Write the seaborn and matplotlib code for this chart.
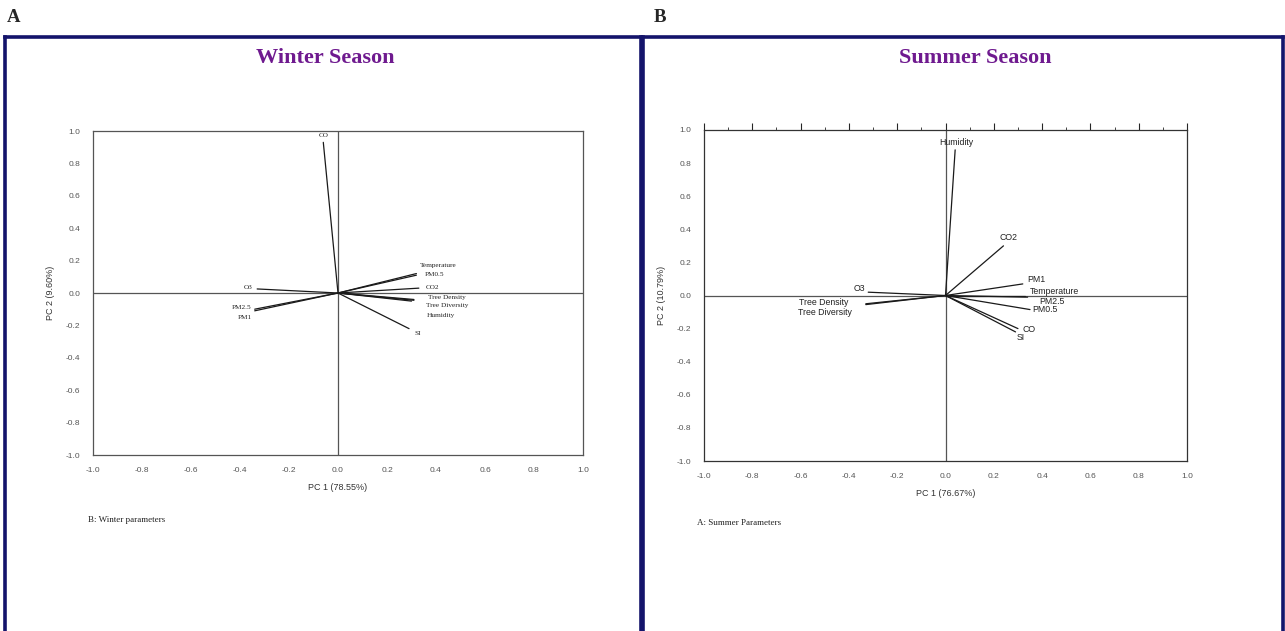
import numpy as np
import pandas as pd
import matplotlib
matplotlib.use("Agg")
import matplotlib.pyplot as plt
import seaborn as sns

sns.set_style("white")
plt.rcParams.update({
    'font.family': ['Liberation Sans', 'DejaVu Sans'],
    'axes.linewidth': 0.8,
})

# ---------------------------
# Loadings
# ---------------------------
winter_vars = ["CO", "Temperature", "PM0.5", "CO2", "Tree Density", "Tree Diversity",
               "Humidity", "SI", "O3", "PM2.5", "PM1"]
winter_pc1 = [-0.06, 0.32, 0.32, 0.33, 0.31, 0.31, 0.30, 0.29, -0.33, -0.34, -0.34]
winter_pc2 = [0.93, 0.12, 0.11, 0.03, -0.04, -0.045, -0.05, -0.22, 0.025, -0.10, -0.11]

summer_vars = ["Humidity", "CO2", "PM1", "Temperature", "PM2.5", "PM0.5", "CO", "SI",
               "O3", "Tree Density", "Tree Diversity"]
summer_pc1 = [0.04, 0.24, 0.32, 0.33, 0.34, 0.35, 0.30, 0.29, -0.32, -0.33, -0.33]
summer_pc2 = [0.88, 0.30, 0.07, 0.0, -0.01, -0.085, -0.20, -0.22, 0.02, -0.05, -0.055]

winter_xlabel = "PC 1 (78.55%)"
winter_ylabel = "PC 2 (9.60%)"
summer_xlabel = "PC 1 (76.67%)"
summer_ylabel = "PC 2 (10.79%)"
ticks = [-1.0, -0.8, -0.6, -0.4, -0.2, 0.0, 0.2, 0.4, 0.6, 0.8, 1.0]

# label placement relative to the end of each vector (pixels: dx, dy, ha)
winter_offsets = {
    "CO": (0, 7, "center"), "Temperature": (3, 8, "left"), "PM0.5": (8, 1, "left"),
    "CO2": (7, 1, "left"), "Tree Density": (14, 2, "left"), "Tree Diversity": (12, -5, "left"),
    "Humidity": (15, -14, "left"), "SI": (5, -5, "left"), "O3": (-5, 1, "right"),
    "PM2.5": (-3, 2, "right"), "PM1": (-3, -7, "right"),
}
summer_offsets = {
    "Humidity": (1, 7, "center"), "CO2": (5, 8, "center"), "PM1": (4, 4, "left"),
    "Temperature": (5, 4, "left"), "PM2.5": (12, -4, "left"), "PM0.5": (2, 0, "left"),
    "CO": (5, -1, "left"), "SI": (1, -6, "left"), "O3": (-3, 4, "right"),
    "Tree Density": (-17, 1, "right"), "Tree Diversity": (-14, -8, "right"),
}

NAVY = "#14146b"
PURPLE = "#6f1a8f"
PX = 0.72  # pixel -> point at dpi 100


def vectors_frame(names, pc1, pc2):
    rows = []
    for n, a, b in zip(names, pc1, pc2):
        rows.append({"var": n, "pc1": 0.0, "pc2": 0.0})
        rows.append({"var": n, "pc1": a, "pc2": b})
    return pd.DataFrame(rows)


def draw_biplot(ax, names, pc1, pc2, offsets, xlabel, ylabel, label_font, label_size, summer):
    df = vectors_frame(names, pc1, pc2)
    ax.axhline(0, color="#555555", lw=0.9, zorder=1)
    ax.axvline(0, color="#555555", lw=0.9, zorder=1)
    sns.lineplot(data=df, x="pc1", y="pc2", units="var", estimator=None, sort=False,
                 color="#1a1a1a", lw=0.9, ax=ax, legend=False, zorder=3)
    for n, a, b in zip(names, pc1, pc2):
        dx, dy, ha = offsets[n]
        ax.annotate(n, (a, b), xytext=(dx * PX, dy * PX), textcoords="offset points",
                    ha=ha, va="center", fontsize=label_size, family=label_font,
                    color="#222222")
    ax.set_xlim(-1, 1)
    ax.set_ylim(-1, 1)
    ax.set_xticks(ticks)
    ax.set_yticks(ticks)
    ax.set_xticklabels([f"{t:.1f}" for t in ticks])
    ax.set_yticklabels([f"{t:.1f}" for t in ticks])
    ax.set_xlabel(xlabel, fontsize=6.5, color="#333333", labelpad=6)
    ax.set_ylabel(ylabel, fontsize=6.5, color="#333333", labelpad=8)
    ax.set_facecolor("none")
    for s in ax.spines.values():
        s.set_color("#555555" if not summer else "#333333")
        s.set_linewidth(0.9)
    if summer:
        ax.set_xticks(np.arange(-1.0, 1.01, 0.1).round(1), minor=True)
        ax.set_yticks(np.arange(-1.0, 1.01, 0.1).round(1), minor=True)
        ax.tick_params(which="major", direction="out", length=5, width=0.8,
                       top=True, right=False, labelsize=6, labelcolor="#555555", pad=4)
        ax.tick_params(which="minor", direction="out", length=2.5, width=0.6,
                       top=True, right=False)
    else:
        ax.tick_params(length=0, labelsize=6, labelcolor="#555555", pad=9)
    ax.grid(False)


fig = plt.figure(figsize=(12.85, 6.31), dpi=100)
W, H = 1285, 631

# navy panel frames
for left, right in [(5, 641), (643, 1283)]:
    frame = fig.add_axes([left / W, 0, (right - left) / W, 1 - 37 / H])
    frame.set_xticks([])
    frame.set_yticks([])
    frame.set_facecolor("white")
    for side, s in frame.spines.items():
        s.set_color(NAVY)
        s.set_linewidth(2.6)
    frame.spines["bottom"].set_visible(False)
    frame.set_zorder(0)

ax_w = fig.add_axes([93 / W, 1 - 455 / H, (583 - 93) / W, (455 - 131) / H])
ax_s = fig.add_axes([704 / W, 1 - 461 / H, (1187 - 704) / W, (461 - 130) / H])

draw_biplot(ax_w, winter_vars, winter_pc1, winter_pc2, winter_offsets,
            winter_xlabel, winter_ylabel, "Liberation Serif", 5.2, summer=False)
draw_biplot(ax_s, summer_vars, summer_pc1, summer_pc2, summer_offsets,
            summer_xlabel, summer_ylabel, "Liberation Sans", 6.3, summer=True)

fig.text(14 / W, 1 - 18 / H, "A", fontsize=13.5, fontweight="bold", family="Liberation Serif",
         ha="center", va="center")
fig.text(660 / W, 1 - 18 / H, "B", fontsize=13.5, fontweight="bold", family="Liberation Serif",
         ha="center", va="center")
fig.text(325 / W, 1 - 58 / H, "Winter Season", fontsize=16, fontweight="bold",
         family="Liberation Serif", color=PURPLE, ha="center", va="center")
fig.text(975 / W, 1 - 58 / H, "Summer Season", fontsize=16, fontweight="bold",
         family="Liberation Serif", color=PURPLE, ha="center", va="center")
fig.text(88 / W, 1 - 520 / H, "B: Winter parameters", fontsize=6.5,
         family="Liberation Serif", color="#222222", ha="left", va="center")
fig.text(697 / W, 1 - 523 / H, "A: Summer Parameters", fontsize=6.5,
         family="Liberation Serif", color="#222222", ha="left", va="center")

fig.savefig("out.png", dpi=100)
